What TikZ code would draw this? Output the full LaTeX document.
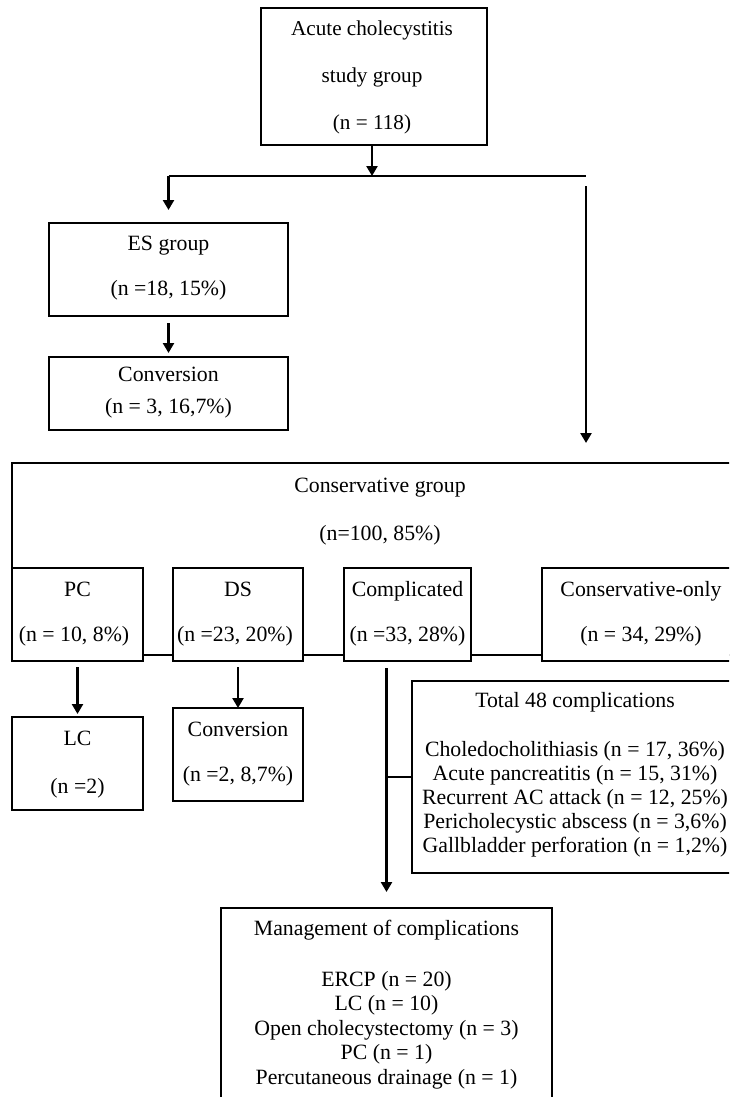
\documentclass[tikz,border=0pt]{standalone}
\usepackage{fontspec}
\setmainfont{Liberation Serif}
\usetikzlibrary{arrows.meta}
\newcommand\mybox[5]{\node[box, minimum width={(#4-#2)*0.5pt}, minimum height={(#5-#3)*0.5pt}] (#1) at (#2,#3) {};}
\begin{document}
\begin{tikzpicture}[x=0.5pt,y=-0.5pt,
  box/.style={draw=black, line width=0.65pt, fill=white, inner sep=0pt, outer sep=0pt, anchor=north west},
  txt/.style={inner sep=0pt, anchor=base, font=\fontsize{10.9}{13}\selectfont},
  toptxt/.style={txt, font=\fontsize{10.6}{12}\selectfont},
  arr/.style={line width=1.4pt, -{Triangle[width=5.5pt,length=5pt]}},
  thinline/.style={line width=0.65pt},
]
\clip (0,0) rectangle (729,1097);
\fill[white] (0,0) rectangle (729,1097);
% boxes
\mybox{top}{261}{8}{487}{145}
\mybox{es}{49}{223}{288}{316}
\mybox{conv}{49}{357}{288}{430}
\mybox{cons}{12}{463}{748}{655}
\mybox{pc}{12}{568}{143}{661}
\mybox{ds}{173}{568}{303}{661}
\mybox{comp}{344}{568}{471}{661}
\mybox{only}{542}{568}{740}{661}
\mybox{lc}{12}{717}{143}{810}
\mybox{dsconv}{173}{708}{303}{801}
\mybox{total}{412}{681}{738}{873}
\mybox{mgmt}{221}{908}{552}{1120}
% texts
\node[toptxt] (top1) at (372,36) {Acute cholecystitis};
\node[toptxt] (top2) at (372,83) {study group};
\node[toptxt] (top3) at (372,129) {(n = 118)};
\node[txt] (es1) at (168.5,250) {ES group};
\node[txt] (es2) at (168.5,295) {(n =18, 15\%)};
\node[txt] (conv1) at (168.5,381) {Conversion};
\node[txt] (conv2) at (168.5,413) {(n = 3, 16,7\%)};
\node[txt] (cons1) at (380,492) {Conservative group};
\node[txt] (cons2) at (380,540) {(n=100, 85\%)};
\node[txt] (pc1) at (77.5,596) {PC};
\node[txt] (pc2) at (74,641) {(n = 10, 8\%)};
\node[txt] (ds1) at (238,596) {DS};
\node[txt] (ds2) at (235,641) {(n =23, 20\%)};
\node[txt] (comp1) at (407.5,596) {Complicated};
\node[txt] (comp2) at (407.5,641) {(n =33, 28\%)};
\node[txt] (only1) at (641,596) {Conservative-only};
\node[txt] (only2) at (641,641) {(n = 34, 29\%)};
\node[txt] (lc1) at (77.5,745) {LC};
\node[txt] (lc2) at (77.5,793) {(n =2)};
\node[txt] (dsc1) at (238,736) {Conversion};
\node[txt] (dsc2) at (238,781) {(n =2, 8,7\%)};
\node[txt] (tot0) at (575,707) {Total 48 complications};
\foreach \t [count=\i] in {{Choledocholithiasis (n = 17, 36\%)},{Acute pancreatitis (n = 15, 31\%)},{Recurrent AC attack (n = 12, 25\%)},{Pericholecystic abscess (n = 3,6\%)},{Gallbladder perforation (n = 1,2\%)}}
  \node[txt] (tot\i) at (575,{756+24*(\i-1)}) {\t};
\node[txt] (mg0) at (386.5,935) {Management of complications};
\foreach \t [count=\i] in {{ERCP (n = 20)},{LC (n = 10)},{Open cholecystectomy (n = 3)},{PC (n = 1)},{Percutaneous drainage (n = 1)}}
  \node[txt] (mg\i) at (386.5,{986+24.5*(\i-1)}) {\t};
% connectors
\coordinate (jL) at (168.5,176);
\coordinate (jR) at (586,176);
\coordinate (rS) at (586,186);
\coordinate (tS) at (372,145);
\coordinate (cS) at (386.5,668);
\draw[arr] (tS) -- (tS |- jL);
\draw[thinline] (jL) -- (jR);
\draw[arr, shorten >=6.5pt] (jL) -- (es.north);
\draw[arr, shorten >=10pt] (rS) -- (rS |- cons.north);
\draw[arr, shorten <=3.5pt, shorten >=2pt] (es.south) -- (conv.north);
\draw[arr, shorten <=3pt, shorten >=1.5pt] (pc.south) -- (lc.north);
\draw[arr, shorten <=3pt] (ds.south) -- (dsconv.north);
\draw[arr, shorten >=8pt] (cS) -- (mgmt.north);
\draw[thinline] (cS |- total.west) -- (total.west);
\end{tikzpicture}
\end{document}
